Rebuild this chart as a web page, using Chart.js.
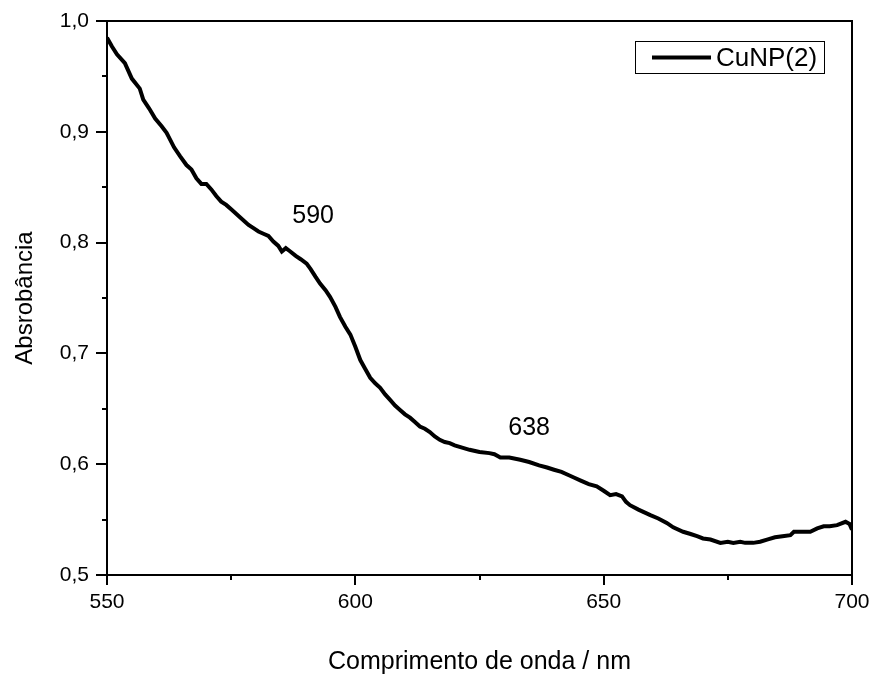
<!DOCTYPE html>
<html>
<head>
<meta charset="utf-8">
<script src="https://cdn.jsdelivr.net/npm/chart.js@4/dist/chart.umd.min.js"></script>
<style>
  html, body { margin: 0; padding: 0; background: #fff; }
  #wrap { width: 874px; height: 677px; }
</style>
</head>
<body>
<div id="wrap"><canvas id="c" width="874" height="677"></canvas></div>
<script>
const wavelengths = [550,551,552,553.6,555,556.6,557.3,558.5,559.7,561,562,563.5,564.7,566,567,568,569,570,571,572,573,574,575,576,577,578.5,579.5,580.5,581.5,582.5,583.5,584.5,585.2,586,586.9,588,589,590.2,591,592,592.9,594,594.9,596,596.9,598,599,600,601,602,603,604,605,606,607,608,609,610,611,612,613,614,615,616,617,618,619,620,621.5,623,625,627,628,629.2,631,633.2,635,637,638.6,640,641.5,643,644,645.5,647,648.6,650,651.3,652.5,653.7,654.5,655.3,657,659.4,661,662.7,664,666,667.5,668.8,670,671.5,673.5,675,676.1,677.5,678.5,680.1,681.5,682.9,684.5,686,687.6,688.3,690,691.6,693,694.3,695.5,697,698.7,699.5,700];
const absorbance = [0.985,0.977,0.970,0.962,0.948,0.939,0.929,0.921,0.912,0.905,0.899,0.886,0.878,0.870,0.866,0.858,0.853,0.853,0.848,0.842,0.837,0.834,0.830,0.826,0.822,0.816,0.813,0.810,0.808,0.806,0.801,0.797,0.792,0.795,0.792,0.788,0.785,0.781,0.776,0.769,0.763,0.757,0.751,0.742,0.733,0.724,0.717,0.706,0.694,0.686,0.678,0.673,0.669,0.663,0.658,0.653,0.649,0.645,0.642,0.638,0.634,0.632,0.629,0.625,0.622,0.620,0.619,0.617,0.615,0.613,0.611,0.610,0.609,0.606,0.606,0.604,0.602,0.599,0.597,0.595,0.593,0.590,0.588,0.585,0.582,0.580,0.576,0.572,0.573,0.571,0.566,0.563,0.559,0.554,0.551,0.547,0.543,0.539,0.537,0.535,0.533,0.532,0.529,0.530,0.529,0.530,0.529,0.529,0.530,0.532,0.534,0.535,0.536,0.539,0.539,0.539,0.542,0.544,0.544,0.545,0.548,0.546,0.541];
const seriesLabel = 'CuNP(2)';
const xTitle = 'Comprimento de onda / nm';
const yTitle = 'Absrobância';
const xMajorTicks = [550, 600, 650, 700];
const xMinorTicks = [575, 625, 675];
const yMajorTicks = [0.5, 0.6, 0.7, 0.8, 0.9, 1.0];
const yMinorTicks = [0.55, 0.65, 0.75, 0.85, 0.95];
const peakLabels = ['590', '638'];
const peakX = [591.5, 635];
const peakY = [0.824, 0.633];

const FONT = "'Liberation Sans', Arial, sans-serif";

const framePlugin = {
  id: 'frame',
  afterDatasetsDraw(chart) {
    const {ctx, chartArea: a, scales: {x, y}} = chart;
    ctx.save();
    ctx.strokeStyle = '#000';
    ctx.lineWidth = 2;
    ctx.strokeRect(a.left, a.top, a.right - a.left, a.bottom - a.top);
    ctx.beginPath();
    yMajorTicks.forEach(v => { const p = Math.round(y.getPixelForValue(v)); ctx.moveTo(a.left - 11, p); ctx.lineTo(a.left, p); });
    yMinorTicks.forEach(v => { const p = Math.round(y.getPixelForValue(v)); ctx.moveTo(a.left - 5, p); ctx.lineTo(a.left, p); });
    xMajorTicks.forEach(v => { const p = Math.round(x.getPixelForValue(v)); ctx.moveTo(p, a.bottom); ctx.lineTo(p, a.bottom + 10); });
    xMinorTicks.forEach(v => { const p = Math.round(x.getPixelForValue(v)); ctx.moveTo(p, a.bottom); ctx.lineTo(p, a.bottom + 5); });
    ctx.stroke();

    // peak annotations
    ctx.fillStyle = '#000';
    ctx.font = '25px ' + FONT;
    ctx.textAlign = 'center';
    ctx.textBaseline = 'middle';
    peakLabels.forEach((t, i) => {
      ctx.fillText(t, x.getPixelForValue(peakX[i]), y.getPixelForValue(peakY[i]));
    });

    // legend
    const lx = 635, ly = 41, lw = 189, lh = 32;
    ctx.lineWidth = 1;
    ctx.strokeRect(lx + 0.5, ly + 0.5, lw, lh);
    ctx.lineWidth = 4;
    ctx.beginPath();
    ctx.moveTo(652, ly + 16.5);
    ctx.lineTo(711, ly + 16.5);
    ctx.stroke();
    ctx.textAlign = 'left';
    ctx.font = '26px ' + FONT;
    ctx.fillText(seriesLabel, 716, ly + 17.5);
    ctx.restore();
  }
};

new Chart(document.getElementById('c'), {
  type: 'line',
  data: {
    datasets: [{
      label: seriesLabel,
      data: wavelengths.map((w, i) => ({x: w, y: absorbance[i]})),
      borderColor: '#000',
      borderWidth: 4,
      pointRadius: 0,
      tension: 0,
      fill: false
    }]
  },
  options: {
    responsive: false,
    animation: false,
    layout: { padding: { top: 21, right: 22, left: 0, bottom: 0 } },
    plugins: { legend: { display: false }, tooltip: { enabled: false } },
    scales: {
      x: {
        type: 'linear', min: 550, max: 700,
        grid: { display: false, drawTicks: false },
        border: { display: false },
        ticks: { stepSize: 50, color: '#000', padding: 15, maxRotation: 0, font: { family: FONT, size: 21 } },
        title: { display: true, text: xTitle, color: '#000', font: { family: FONT, size: 25 }, padding: { top: 0, bottom: 0 } },
        afterFit(s) { s.height = 102; s.paddingLeft = 0; s.paddingRight = 0; }
      },
      y: {
        type: 'linear', min: 0.5, max: 1.0,
        grid: { display: false, drawTicks: false },
        border: { display: false },
        ticks: { stepSize: 0.1, color: '#000', padding: 18, font: { family: FONT, size: 21 },
          callback: v => v.toFixed(1).replace('.', ',') },
        title: { display: true, text: yTitle, color: '#000', font: { family: FONT, size: 24 }, padding: { top: 11, bottom: 0 } },
        afterFit(s) { s.width = 107; s.paddingTop = 0; s.paddingBottom = 0; }
      }
    }
  },
  plugins: [framePlugin]
});
</script>
</body>
</html>
